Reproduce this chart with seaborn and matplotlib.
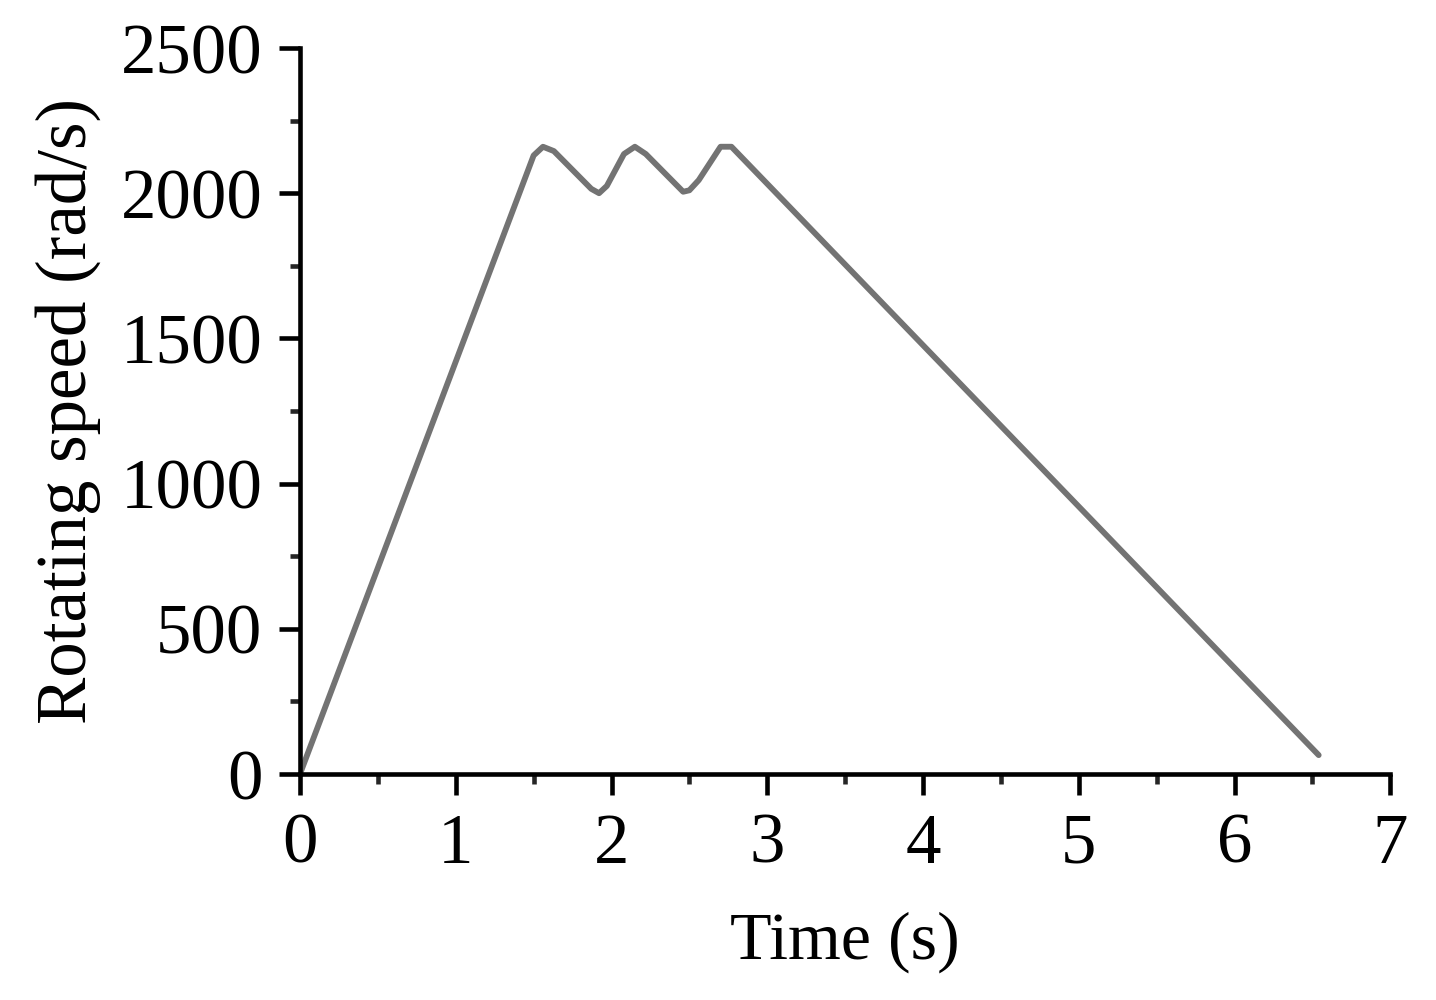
import numpy as np
import pandas as pd
import matplotlib
matplotlib.use('Agg')
import matplotlib.pyplot as plt
import seaborn as sns
from matplotlib.ticker import MultipleLocator

# speed profile
time_s = [0.0, 1.50, 1.56, 1.63, 1.87, 1.92, 1.97, 2.08, 2.15, 2.22,
          2.46, 2.50, 2.56, 2.70, 2.77, 6.54]
speed = [0, 2130, 2160, 2145, 2015, 2000, 2025, 2135, 2160, 2135,
         2005, 2010, 2045, 2160, 2160, 65]

x_ticks = [0, 1, 2, 3, 4, 5, 6, 7]
y_ticks = [0, 500, 1000, 1500, 2000, 2500]

sns.set_style('ticks')
plt.rcParams['font.family'] = ['Liberation Serif', 'DejaVu Serif']
plt.rcParams['text.color'] = 'black'
plt.rcParams['axes.labelcolor'] = 'black'

df = pd.DataFrame({'Time': time_s, 'Speed': speed})

fig = plt.figure(figsize=(14.36, 10), dpi=100)
ax = fig.add_axes([0.2089, 0.226, 0.7593, 0.726])
sns.lineplot(data=df, x='Time', y='Speed', ax=ax, color='#737373',
             linewidth=4.2, sort=False)

ax.set_xlim(0, 7)
ax.set_ylim(0, 2500)
ax.set_xticks(x_ticks)
ax.set_yticks(y_ticks)
ax.xaxis.set_minor_locator(MultipleLocator(0.5))
ax.yaxis.set_minor_locator(MultipleLocator(250))
ax.tick_params(which='major', direction='out', length=15, width=3.3,
               labelsize=51, colors='black')
ax.tick_params(axis='y', which='major', pad=12)
ax.tick_params(axis='x', which='major', pad=13)
ax.tick_params(which='minor', direction='out', length=7.5, width=3.3)

sns.despine(ax=ax)
for s in ['left', 'bottom']:
    ax.spines[s].set_linewidth(3.3)
    ax.spines[s].set_color('black')

ax.set_xlabel('Time (s)', fontsize=49, labelpad=24)
ax.set_ylabel('Rotating speed (rad/s)', fontsize=51, labelpad=14)

fig.savefig('out.png', dpi=100)
